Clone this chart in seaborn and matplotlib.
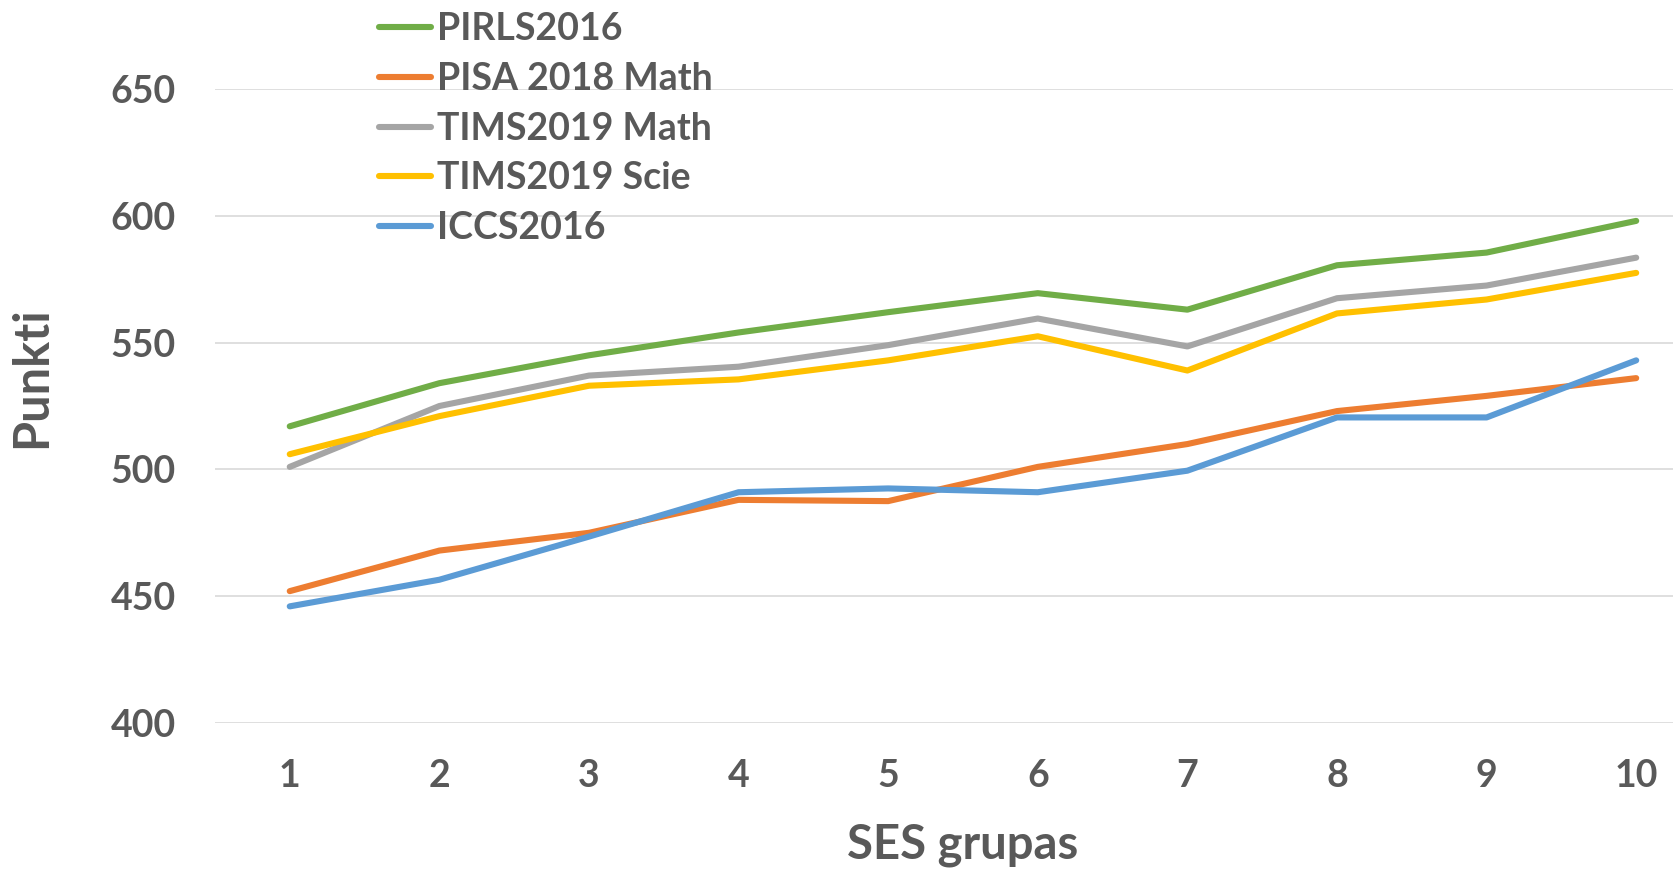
import pandas as pd
import matplotlib.pyplot as plt
import seaborn as sns

# values
ses_groups = [1, 2, 3, 4, 5, 6, 7, 8, 9, 10]
pirls2016 = [517, 534, 545, 554, 562, 569.5, 563, 580.5, 585.5, 598]
pisa2018_math = [452, 468, 475, 488, 487.5, 501, 510, 523, 529, 536]
tims2019_math = [501, 525, 537, 540.5, 549, 559.5, 548.5, 567.5, 572.5, 583.5]
tims2019_scie = [506, 521, 533, 535.5, 543, 552.5, 539, 561.5, 567, 577.5]
iccs2016 = [446, 456.5, 473.5, 491, 492.5, 491, 499.5, 520.5, 520.5, 543]

series_names = ["PIRLS2016", "PISA 2018 Math", "TIMS2019 Math", "TIMS2019 Scie", "ICCS2016"]
series_values = [pirls2016, pisa2018_math, tims2019_math, tims2019_scie, iccs2016]
colors = ["#70AD47", "#ED7D31", "#A5A5A5", "#FFC000", "#5B9BD5"]

rows = []
for name, vals in zip(series_names, series_values):
    for g, v in zip(ses_groups, vals):
        rows.append({"SES": g, "Punkti": v, "Test": name})
df = pd.DataFrame(rows)

sns.set_style("white")
plt.rcParams["font.family"] = ["Lato", "DejaVu Sans"]
plt.rcParams["font.weight"] = "bold"
text_color = "#595959"

fig = plt.figure(figsize=(16.74, 8.71), dpi=100)
ax = fig.add_axes([0.1284, 0.1699, 0.8937, 0.7279])

sns.lineplot(data=df, x="SES", y="Punkti", hue="Test", hue_order=series_names,
             palette=colors, linewidth=4.4, ax=ax)

ax.set_xlim(0.5, 10.5)
ax.set_ylim(400, 650)
ax.set_yticks([400, 450, 500, 550, 600, 650])
ax.set_xticks(ses_groups)
ax.grid(axis="y", color="#D9D9D9", linewidth=1.2)
ax.grid(axis="x", visible=False)
ax.set_axisbelow(True)
for s in ax.spines.values():
    s.set_visible(False)

ax.tick_params(axis="both", length=0, labelsize=27, labelcolor=text_color)
ax.tick_params(axis="y", pad=28)
ax.tick_params(axis="x", pad=26)
for lab in ax.get_xticklabels() + ax.get_yticklabels():
    lab.set_fontweight("bold")

ax.set_xlabel("SES grupas", fontsize=34, fontweight="bold", color=text_color, va="center")
ax.xaxis.set_label_coords(0.5, -0.1924)
ax.set_ylabel("Punkti", fontsize=35, fontweight="bold", color=text_color, va="center")
ax.yaxis.set_label_coords(-0.1223, 0.545)

handles, labels = ax.get_legend_handles_labels()
ax.get_legend().remove()
leg = fig.legend(handles, labels, loc="upper left", bbox_to_anchor=(0.2264, 0.986),
                 frameon=False, fontsize=27, handlelength=1.4, handletextpad=0.15,
                 labelspacing=0.42, borderpad=0, borderaxespad=0)
for t in leg.get_texts():
    t.set_color(text_color)
    t.set_fontweight("bold")
for h in leg.get_lines():
    h.set_linewidth(4.4)

fig.savefig("out.png", dpi=100)
